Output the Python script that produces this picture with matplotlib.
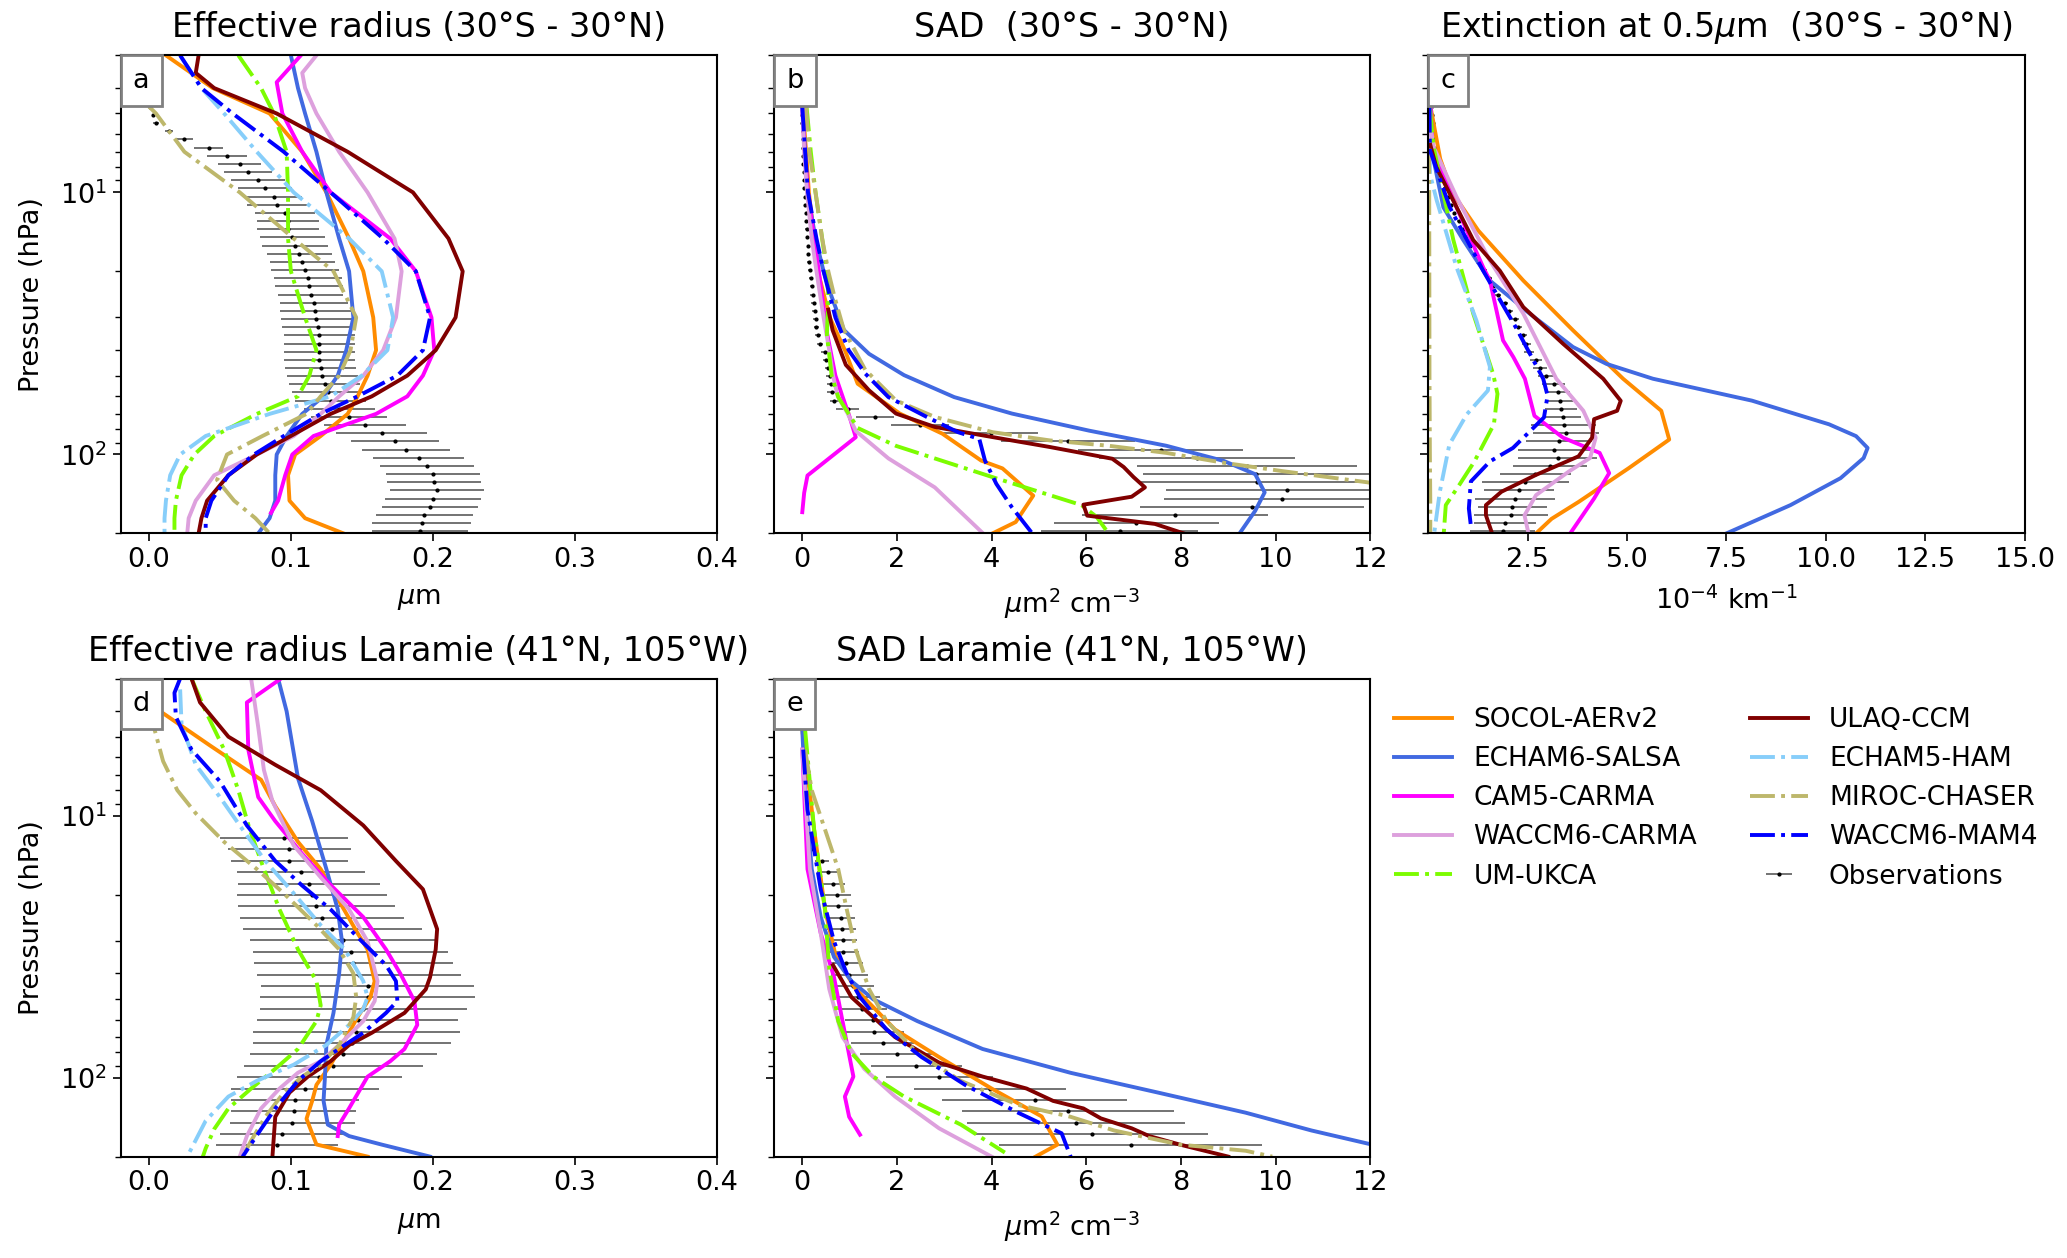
import matplotlib
matplotlib.use("Agg")
import matplotlib.pyplot as plt
from matplotlib.offsetbox import AnchoredText

plt.rcParams["font.family"] = "DejaVu Sans"

MODELS = ["SOCOL-AERv2", "ECHAM6-SALSA", "CAM5-CARMA", "WACCM6-CARMA", "UM-UKCA",
          "ULAQ-CCM", "ECHAM5-HAM", "MIROC-CHASER", "WACCM6-MAM4"]
COLORS = {"SOCOL-AERv2": "darkorange", "ECHAM6-SALSA": "royalblue", "CAM5-CARMA": "magenta",
          "WACCM6-CARMA": "plum", "UM-UKCA": "lawngreen", "ULAQ-CCM": "maroon",
          "ECHAM5-HAM": "lightskyblue", "MIROC-CHASER": "darkkhaki", "WACCM6-MAM4": "blue"}
STYLES = {"UM-UKCA": "-.", "ECHAM5-HAM": "-.", "MIROC-CHASER": "-.", "WACCM6-MAM4": "-."}

# ---------------- observations: pressure grids (hPa) ----------------
P_OBS_TROP = [4.72, 5.07, 5.44, 5.85, 6.28, 6.75, 7.25, 7.79, 8.37, 8.99,
              9.66, 10.38, 11.15, 11.98, 12.87, 13.83, 14.85, 15.96, 17.14, 18.42,
              19.79, 21.26, 22.84, 24.53, 26.36, 28.31, 30.42, 32.68, 35.11, 37.72,
              40.52, 43.53, 46.77, 50.24, 53.97, 57.98, 62.29, 66.92, 71.90, 77.24,
              82.97, 89.13, 95.75, 102.9, 110.5, 118.7, 127.6, 137.0, 147.2, 158.1,
              169.9, 182.5, 196.1]
P_OBS_LAR = [12.17, 13.45, 14.86, 16.43, 18.16, 20.07, 22.18, 24.51, 27.10, 29.95,
             33.10, 36.58, 40.44, 44.69, 49.39, 54.59, 60.34, 66.68, 73.70, 81.47,
             90.03, 99.5, 110.0, 121.6, 134.4, 148.5, 164.1, 181.4]

OBS_REFF_TROP = [0.001, 0.003, 0.005, 0.014, 0.025, 0.042, 0.055, 0.064, 0.070, 0.077,
                 0.082, 0.088, 0.090, 0.096, 0.098, 0.098, 0.101, 0.103, 0.106, 0.108,
                 0.110, 0.112, 0.113, 0.114, 0.116, 0.117, 0.118, 0.119, 0.120, 0.120,
                 0.120, 0.120, 0.121, 0.122, 0.124, 0.126, 0.128, 0.134, 0.141, 0.152,
                 0.164, 0.173, 0.181, 0.190, 0.196, 0.200, 0.201, 0.203, 0.200, 0.198,
                 0.194, 0.192, 0.191]
ERR_REFF_TROP = [0.001, 0.001, 0.002, 0.003, 0.006, 0.010, 0.014, 0.015, 0.017, 0.019,
                 0.019, 0.020, 0.021, 0.021, 0.022, 0.022, 0.023, 0.023, 0.023, 0.023,
                 0.024, 0.024, 0.024, 0.023, 0.024, 0.025, 0.025, 0.025, 0.025, 0.025,
                 0.025, 0.025, 0.025, 0.025, 0.025, 0.025, 0.025, 0.025, 0.027, 0.029,
                 0.032, 0.031, 0.031, 0.032, 0.033, 0.033, 0.033, 0.033, 0.034, 0.034,
                 0.034, 0.035, 0.034]

OBS_SAD_TROP = [0.0, 0.0, 0.0, 0.01, 0.01, 0.01, 0.02, 0.02, 0.03, 0.03,
                0.04, 0.05, 0.06, 0.07, 0.08, 0.09, 0.10, 0.12, 0.13, 0.15,
                0.17, 0.19, 0.20, 0.22, 0.24, 0.26, 0.28, 0.30, 0.33, 0.37,
                0.47, 0.50, 0.55, 0.58, 0.60, 0.62, 0.68, 0.96, 1.53, 2.49,
                3.98, 5.61, 7.57, 8.34, 9.40, 9.59, 9.61, 10.24, 10.14, 9.50,
                7.87, 7.06, 6.71]
ERR_SAD_TROP = [0.0, 0.0, 0.0, 0.01, 0.01, 0.01, 0.01, 0.01, 0.01, 0.02,
                0.02, 0.02, 0.02, 0.02, 0.03, 0.03, 0.03, 0.03, 0.03, 0.04,
                0.04, 0.04, 0.04, 0.05, 0.05, 0.05, 0.05, 0.06, 0.06, 0.06,
                0.07, 0.07, 0.08, 0.08, 0.08, 0.09, 0.10, 0.24, 0.40, 0.62,
                1.00, 1.42, 1.75, 2.07, 2.33, 2.40, 2.45, 2.55, 2.50, 2.37,
                1.96, 1.74, 1.66]

OBS_EXT_TROP = [0.06, 0.09, 0.11, 0.13, 0.15, 0.19, 0.23, 0.28, 0.32, 0.36,
                0.41, 0.49, 0.58, 0.65, 0.76, 0.87, 0.92, 1.05, 1.14, 1.26,
                1.41, 1.53, 1.63, 1.76, 1.92, 2.03, 2.18, 2.26, 2.37, 2.47,
                2.54, 2.71, 2.81, 2.96, 3.15, 3.25, 3.31, 3.34, 3.39, 3.41,
                3.47, 3.29, 3.17, 3.25, 3.05, 2.69, 2.44, 2.28, 2.18, 2.11,
                2.08, 1.94, 1.87]
ERR_EXT_TROP = [0.01, 0.01, 0.01, 0.01, 0.01, 0.02, 0.02, 0.02, 0.02, 0.03,
                0.03, 0.03, 0.04, 0.04, 0.04, 0.05, 0.05, 0.05, 0.06, 0.06,
                0.07, 0.07, 0.08, 0.08, 0.09, 0.09, 0.10, 0.10, 0.11, 0.12,
                0.13, 0.15, 0.17, 0.20, 0.30, 0.32, 0.33, 0.40, 0.46, 0.82,
                0.83, 0.82, 0.92, 1.00, 0.93, 0.89, 1.10, 0.87, 1.00, 0.87,
                0.92, 0.78, 0.81]

OBS_REFF_LAR = [0.095, 0.099, 0.099, 0.107, 0.113, 0.115, 0.118, 0.122, 0.129, 0.137,
                0.142, 0.144, 0.148, 0.154, 0.154, 0.151, 0.147, 0.146, 0.143, 0.137,
                0.130, 0.120, 0.110, 0.103, 0.102, 0.101, 0.094, 0.090]
ERR_REFF_LAR = [0.045, 0.043, 0.041, 0.045, 0.050, 0.053, 0.055, 0.058, 0.063, 0.066,
                0.069, 0.070, 0.072, 0.075, 0.076, 0.073, 0.071, 0.073, 0.070, 0.066,
                0.063, 0.058, 0.052, 0.045, 0.044, 0.044, 0.044, 0.043]

OBS_SAD_LAR = [0.18, 0.22, 0.41, 0.54, 0.65, 0.74, 0.76, 0.81, 0.83, 0.85,
               0.87, 0.93, 0.99, 1.08, 1.18, 1.27, 1.50, 1.52, 1.70, 2.01,
               2.41, 2.89, 3.97, 4.91, 5.62, 5.78, 6.13, 6.94]
ERR_SAD_LAR = [0.01, 0.10, 0.15, 0.22, 0.25, 0.28, 0.28, 0.30, 0.30, 0.31,
               0.32, 0.36, 0.39, 0.44, 0.46, 0.52, 0.60, 0.62, 0.67, 0.79,
               0.96, 1.13, 1.60, 1.95, 2.24, 2.30, 2.45, 2.78]

# ---------------- model profiles: (pressure hPa, value) ----------------
REFF_TROP = {
    "SOCOL-AERv2": ([3, 4, 5, 7, 10, 15, 20, 30, 40, 50, 60, 70, 85, 100, 120, 150, 175, 200],
                    [0.012, 0.045, 0.085, 0.108, 0.125, 0.141, 0.151, 0.158, 0.160, 0.154, 0.147, 0.140, 0.121, 0.103, 0.098, 0.099, 0.110, 0.137]),
    "ECHAM6-SALSA": ([3, 4, 5, 7, 10, 15, 20, 30, 40, 50, 60, 70, 85, 100, 120, 150, 175, 200],
                     [0.100, 0.105, 0.110, 0.118, 0.125, 0.134, 0.141, 0.144, 0.139, 0.133, 0.123, 0.108, 0.097, 0.090, 0.089, 0.089, 0.085, 0.077]),
    "CAM5-CARMA": ([3, 3.8, 5, 7, 10, 15, 20, 30, 40, 50, 60, 70, 85, 100, 120, 150, 167],
                   [0.107, 0.090, 0.094, 0.108, 0.128, 0.170, 0.188, 0.199, 0.201, 0.193, 0.182, 0.160, 0.116, 0.101, 0.096, 0.091, 0.086]),
    "WACCM6-CARMA": ([3, 3.5, 4, 5, 7, 10, 15, 20, 30, 40, 50, 60, 70, 85, 100, 120, 150, 175, 200],
                     [0.118, 0.108, 0.110, 0.118, 0.134, 0.154, 0.173, 0.178, 0.174, 0.165, 0.151, 0.134, 0.121, 0.102, 0.076, 0.046, 0.033, 0.028, 0.027]),
    "UM-UKCA": ([3, 4, 5, 7, 10, 15, 20, 30, 40, 50, 60, 70, 85, 100, 120, 150, 175, 200],
                [0.063, 0.079, 0.088, 0.097, 0.098, 0.098, 0.100, 0.110, 0.118, 0.113, 0.105, 0.076, 0.046, 0.032, 0.023, 0.019, 0.018, 0.018]),
    "ULAQ-CCM": ([3, 3.5, 4, 5, 7, 10, 15, 20, 30, 40, 50, 60, 70, 85, 100, 120, 150, 175, 200],
                 [0.035, 0.033, 0.046, 0.090, 0.140, 0.186, 0.211, 0.221, 0.216, 0.202, 0.182, 0.157, 0.128, 0.100, 0.076, 0.056, 0.041, 0.037, 0.035]),
    "ECHAM5-HAM": ([3, 4, 5, 7, 10, 15, 20, 30, 40, 50, 60, 70, 85, 100, 120, 150, 175, 200],
                   [0.022, 0.037, 0.053, 0.076, 0.102, 0.141, 0.164, 0.172, 0.168, 0.150, 0.128, 0.085, 0.040, 0.022, 0.015, 0.012, 0.011, 0.011]),
    "MIROC-CHASER": ([4.7, 5, 7, 10, 15, 20, 30, 40, 50, 60, 70, 85, 100, 125, 150, 175, 200],
                     [0.0, 0.005, 0.025, 0.064, 0.102, 0.130, 0.146, 0.142, 0.134, 0.121, 0.111, 0.080, 0.055, 0.048, 0.060, 0.075, 0.085]),
    "WACCM6-MAM4": ([3, 4, 5, 7, 10, 15, 20, 30, 40, 50, 60, 70, 85, 100, 120, 150, 175, 200],
                    [0.022, 0.037, 0.059, 0.095, 0.128, 0.165, 0.188, 0.198, 0.193, 0.175, 0.147, 0.121, 0.095, 0.074, 0.056, 0.044, 0.040, 0.040]),
}

SAD_TROP = {
    "SOCOL-AERv2": ([4.7, 5, 7, 10, 15, 20, 30, 40, 53.7, 69.8, 83.3, 105.5, 113, 143.5, 181, 200],
                    [0.0, 0.02, 0.08, 0.14, 0.25, 0.33, 0.58, 0.90, 1.17, 2.06, 2.96, 3.78, 4.23, 4.88, 4.51, 4.02]),
    "ECHAM6-SALSA": ([4.7, 7, 10, 15, 20, 25, 33.5, 41.3, 49.8, 60.4, 69.8, 81.1, 92.6, 105.9, 118.9, 139.5, 164, 200],
                     [0.0, 0.06, 0.11, 0.28, 0.45, 0.62, 0.88, 1.41, 2.15, 3.21, 4.43, 6.06, 7.69, 8.91, 9.57, 9.77, 9.57, 9.24]),
    "CAM5-CARMA": ([4.7, 7, 10, 15, 20, 33.5, 50, 71.9, 85.9, 120.3, 140, 166],
                   [0.0, 0.05, 0.12, 0.25, 0.35, 0.51, 0.70, 1.0, 1.13, 0.11, 0.04, 0.0]),
    "WACCM6-CARMA": ([4.7, 7, 10, 15, 20, 30, 40, 50, 60, 69.8, 81.3, 103.5, 133.5, 200],
                     [0.0, 0.04, 0.10, 0.20, 0.30, 0.45, 0.57, 0.65, 0.75, 0.96, 1.13, 1.82, 2.80, 3.82]),
    "UM-UKCA": ([4.7, 7, 10, 15, 20, 25, 35, 50, 60.4, 69, 79.2, 92.7, 122, 156, 173, 200],
                [0.09, 0.18, 0.28, 0.42, 0.52, 0.55, 0.52, 0.62, 0.76, 0.96, 1.17, 1.98, 4.02, 5.90, 6.22, 6.47]),
    "ULAQ-CCM": ([28, 33.5, 45.5, 56.9, 69.8, 78.5, 83.3, 88.4, 93.7, 103.8, 111.6, 122, 133.5, 144.9, 155.4, 171.1, 184, 200],
                 [0.55, 0.64, 0.92, 1.41, 1.98, 2.80, 3.61, 4.43, 5.24, 6.55, 6.79, 7.00, 7.24, 6.96, 5.94, 6.02, 7.45, 8.06]),
    "MIROC-CHASER": ([4.7, 7, 10, 15, 20, 25, 33.5, 47.5, 62.2, 71.9, 82.2, 88.4, 92.6, 98.6, 107.6, 115.7, 127.6, 132],
                     [0.08, 0.15, 0.28, 0.42, 0.55, 0.68, 0.88, 1.33, 1.98, 2.80, 4.02, 5.24, 6.47, 7.69, 8.91, 10.14, 11.93, 12.4]),
    "WACCM6-MAM4": ([4.7, 7, 10, 15, 20, 30, 40, 49.1, 60.4, 71.9, 82.2, 87.2, 105.5, 129.4, 159.1, 198],
                    [0.0, 0.06, 0.12, 0.30, 0.45, 0.70, 0.98, 1.33, 1.82, 2.63, 3.29, 3.74, 3.86, 4.10, 4.43, 4.84]),
}

EXT_TROP = {
    "SOCOL-AERv2": ([4.75, 7.45, 10, 14, 21.7, 33.6, 51.4, 68.1, 87.7, 112.8, 151.7, 176, 200],
                    [0.06, 0.30, 0.60, 1.26, 2.39, 3.64, 4.90, 5.86, 6.06, 5.04, 3.78, 3.10, 2.71]),
    "ECHAM6-SALSA": ([4.75, 7.1, 11.4, 15.2, 21.7, 29.0, 38.9, 45.1, 51.4, 62.3, 76.7, 85.1, 94.4, 103.2, 123.1, 156, 200],
                     [0.06, 0.10, 0.38, 0.88, 1.55, 2.55, 3.64, 4.48, 5.65, 8.14, 10.08, 10.76, 11.05, 10.95, 10.37, 9.11, 7.50]),
    "CAM5-CARMA": ([4.75, 6.9, 11.4, 19.3, 21.7, 36.7, 42.5, 51.4, 71.2, 86.3, 98.6, 117.8, 147.2, 200],
                   [0.06, 0.10, 0.71, 1.38, 1.55, 1.88, 2.14, 2.43, 2.67, 3.39, 4.31, 4.55, 4.17, 3.57]),
    "WACCM6-CARMA": ([5.5, 6.7, 10.4, 18.2, 29.0, 51.4, 68.1, 86.3, 103.1, 116, 142.9, 170.6, 200],
                     [0.05, 0.13, 0.71, 1.55, 2.39, 3.22, 3.90, 4.21, 4.07, 3.54, 2.71, 2.42, 2.52]),
    "UM-UKCA": ([4.75, 6.7, 15.2, 29.0, 49.2, 58.7, 76.7, 106.3, 130.6, 156, 199],
                [0.04, 0.13, 0.63, 1.13, 1.63, 1.74, 1.65, 1.16, 0.78, 0.44, 0.39]),
    "ULAQ-CCM": ([6.5, 8.0, 15.2, 19.9, 27.4, 37.8, 51.4, 62.4, 68.1, 73.3, 86.3, 101.6, 119.6, 138.7, 156, 170.6, 199],
                 [0.04, 0.20, 1.13, 1.80, 2.39, 3.39, 4.40, 4.84, 4.75, 4.17, 4.12, 3.78, 2.71, 1.84, 1.45, 1.45, 1.60]),
    "ECHAM5-HAM": ([4.75, 8.5, 10.7, 19.3, 30.8, 46.3, 57.0, 70.2, 91.6, 138.7, 199],
                   [0.02, 0.04, 0.21, 0.71, 1.21, 1.55, 1.50, 0.97, 0.53, 0.29, 0.15]),
    "MIROC-CHASER": ([4.75, 50, 100, 150, 200],
                     [0.02, 0.03, 0.04, 0.05, 0.05]),
    "WACCM6-MAM4": ([4.75, 6.9, 11.4, 19.9, 33.1, 51.4, 59.6, 72.2, 82.6, 94.4, 106.3, 126.8, 160.6, 186.6],
                    [0.03, 0.04, 0.54, 1.38, 2.22, 2.89, 3.00, 2.91, 2.52, 2.13, 1.55, 1.07, 1.02, 1.07]),
}

REFF_LAR = {
    "SOCOL-AERv2": ([4.0, 5.4, 7.3, 9.2, 12.6, 16.0, 21.2, 28.1, 32.4, 42.8, 49.3, 58.7, 75, 89.2, 106.5, 122.6, 143.4, 179.8, 200],
                    [0.008, 0.043, 0.079, 0.089, 0.105, 0.121, 0.134, 0.147, 0.154, 0.159, 0.156, 0.147, 0.136, 0.128, 0.118, 0.115, 0.111, 0.118, 0.154]),
    "ECHAM6-SALSA": ([3.0, 4.0, 7.2, 10.5, 16.0, 22.8, 30.2, 40, 56.6, 75, 99, 122.6, 151, 167, 180, 200],
                     [0.091, 0.097, 0.105, 0.115, 0.125, 0.133, 0.136, 0.134, 0.130, 0.125, 0.124, 0.123, 0.126, 0.141, 0.164, 0.198]),
    "CAM5-CARMA": ([3.0, 3.7, 5.6, 8.5, 10.5, 14.0, 18.4, 24.4, 32.4, 40, 51, 62.9, 77.7, 86.5, 99.1, 130.8, 151, 167],
                   [0.093, 0.069, 0.070, 0.077, 0.089, 0.108, 0.128, 0.151, 0.167, 0.177, 0.187, 0.189, 0.180, 0.170, 0.154, 0.141, 0.134, 0.133]),
    "WACCM6-CARMA": ([3.0, 4.6, 6.7, 8.8, 13.0, 17.2, 22.8, 30.2, 42.8, 51, 60.8, 75, 86.5, 95.7, 110, 131, 167, 200],
                     [0.072, 0.077, 0.081, 0.087, 0.102, 0.121, 0.141, 0.154, 0.161, 0.159, 0.151, 0.134, 0.121, 0.105, 0.092, 0.079, 0.069, 0.064]),
    "UM-UKCA": ([3.0, 4.0, 5.6, 8.0, 11.3, 16.0, 22.8, 32.4, 42.8, 53, 60.8, 77.7, 92.5, 110, 131, 157, 186, 200],
                [0.030, 0.040, 0.053, 0.063, 0.071, 0.081, 0.092, 0.105, 0.118, 0.121, 0.118, 0.105, 0.089, 0.072, 0.056, 0.046, 0.040, 0.038]),
    "ULAQ-CCM": ([3.0, 3.7, 5.0, 6.4, 8.0, 10.9, 14.9, 19.1, 27.1, 32.4, 41.4, 46.0, 56.6, 67.4, 75, 86.5, 99, 114, 141, 200],
                 [0.030, 0.036, 0.056, 0.089, 0.121, 0.151, 0.174, 0.193, 0.203, 0.202, 0.198, 0.195, 0.180, 0.157, 0.141, 0.128, 0.112, 0.099, 0.089, 0.087]),
    "ECHAM5-HAM": ([3.3, 4.5, 6.4, 8.5, 11.3, 14.9, 19.8, 26.2, 32.4, 42.8, 49.3, 54.7, 62.9, 75, 89.2, 102.8, 118, 146, 200],
                   [0.022, 0.023, 0.033, 0.050, 0.066, 0.082, 0.102, 0.121, 0.138, 0.151, 0.154, 0.151, 0.141, 0.125, 0.102, 0.076, 0.056, 0.040, 0.027]),
    "MIROC-CHASER": ([3.9, 4.7, 6.2, 8.0, 9.8, 12.6, 16.0, 19.8, 26.2, 32.4, 40, 49.3, 58.7, 75, 89.2, 99, 114, 141, 174, 200],
                     [0.003, 0.004, 0.010, 0.020, 0.033, 0.053, 0.076, 0.095, 0.118, 0.134, 0.144, 0.146, 0.144, 0.134, 0.121, 0.108, 0.095, 0.082, 0.072, 0.066]),
    "WACCM6-MAM4": ([3.0, 3.4, 4.2, 5.6, 7.4, 10.9, 14.9, 18.5, 22.8, 29.1, 37.2, 42.8, 51, 56.6, 67.4, 75, 86.5, 102.8, 131, 157, 200],
                    [0.022, 0.018, 0.019, 0.030, 0.050, 0.069, 0.089, 0.108, 0.128, 0.147, 0.167, 0.174, 0.175, 0.167, 0.151, 0.138, 0.121, 0.105, 0.089, 0.079, 0.066]),
}

SAD_LAR = {
    "SOCOL-AERv2": ([4.7, 11.3, 22.8, 34.6, 45.9, 65.5, 83.4, 110, 140.6, 180, 200],
                    [0.0, 0.25, 0.48, 0.71, 1.13, 1.96, 2.89, 4.00, 5.06, 5.39, 4.93]),
    "ECHAM6-SALSA": ([4.7, 8.0, 16.0, 24.4, 34.6, 42.8, 50.2, 60.8, 77.7, 95.8, 114, 136, 159, 180, 200],
                     [0.0, 0.06, 0.20, 0.39, 0.67, 1.04, 1.50, 2.43, 3.81, 5.67, 7.52, 9.37, 10.76, 12.04, 12.7]),
    "CAM5-CARMA": ([5.6, 16, 28.1, 41.3, 60.8, 99, 118, 141, 165],
                   [0.0, 0.11, 0.39, 0.67, 0.85, 1.08, 0.90, 0.99, 1.22]),
    "WACCM6-CARMA": ([5.6, 16, 28.1, 45.9, 70, 92.5, 118, 156, 200],
                     [0.0, 0.16, 0.39, 0.57, 0.85, 1.31, 1.96, 2.89, 4.00]),
    "UM-UKCA": ([4.7, 11.3, 22.8, 38.5, 60.8, 80.5, 99, 118, 151, 193],
                [0.06, 0.25, 0.48, 0.57, 0.76, 1.04, 1.50, 2.15, 3.35, 4.28]),
    "ULAQ-CCM": ([37.2, 49.3, 70, 87.6, 99, 110, 122.6, 131, 143, 156, 167, 180, 200],
                 [0.65, 1.04, 1.96, 2.89, 3.81, 4.74, 5.30, 5.94, 6.31, 6.96, 7.33, 7.98, 9.00]),
    "MIROC-CHASER": ([5.6, 8.0, 11.3, 16, 22.8, 32.4, 45.9, 60.8, 80.5, 102.8, 127, 141, 159, 180, 190, 200],
                     [0.06, 0.20, 0.48, 0.76, 0.94, 1.13, 1.41, 1.78, 2.43, 3.35, 4.56, 5.67, 6.59, 7.98, 9.37, 9.93]),
    "WACCM6-MAM4": ([5.6, 9.5, 19.1, 30.2, 40, 49.3, 65.5, 83.4, 106.5, 136, 163, 200],
                    [0.02, 0.11, 0.39, 0.67, 0.94, 1.22, 1.78, 2.52, 3.44, 4.56, 5.48, 5.67]),
}

TITLES = ["Effective radius (30°S - 30°N)", "SAD  (30°S - 30°N)",
          r"Extinction at 0.5$\mu$m  (30°S - 30°N)",
          "Effective radius Laramie (41°N, 105°W)", "SAD Laramie (41°N, 105°W)"]
XLABELS = [r"$\mu$m", r"$\mu$m$^2$ cm$^{-3}$", r"10$^{-4}$ km$^{-1}$",
           r"$\mu$m", r"$\mu$m$^2$ cm$^{-3}$"]

FS = 19.5
fig = plt.figure(figsize=(20.67, 12.58), dpi=100)
W, H = 0.2885, 0.380
pos = [(0.0583, 0.576), (0.3744, 0.576), (0.691, 0.576), (0.0583, 0.0806), (0.3744, 0.0806)]
axes = [fig.add_axes([x, y, W, H]) for x, y in pos]

panels = [
    (REFF_TROP, OBS_REFF_TROP, ERR_REFF_TROP, P_OBS_TROP),
    (SAD_TROP, OBS_SAD_TROP, ERR_SAD_TROP, P_OBS_TROP),
    (EXT_TROP, OBS_EXT_TROP, ERR_EXT_TROP, P_OBS_TROP),
    (REFF_LAR, OBS_REFF_LAR, ERR_REFF_LAR, P_OBS_LAR),
    (SAD_LAR, OBS_SAD_LAR, ERR_SAD_LAR, P_OBS_LAR),
]

handles = {}
for i, (ax, (models, obs, err, pobs)) in enumerate(zip(axes, panels)):
    eb = ax.errorbar(obs, pobs, xerr=err, fmt=".", color="k", ms=4,
                     ecolor="0.3", elinewidth=1.1, capsize=0, zorder=1)
    handles["Observations"] = eb
    for name in MODELS:
        if name not in models:
            continue
        p, v = models[name]
        ln, = ax.plot(v, p, color=COLORS[name], ls=STYLES.get(name, "-"), lw=2.8, zorder=2)
        handles[name] = ln

    ax.set_yscale("log")
    ax.set_ylim(200, 3)
    ax.set_title(TITLES[i], fontsize=24, pad=13)
    ax.set_xlabel(XLABELS[i], fontsize=FS, labelpad=10)
    ax.tick_params(axis="both", which="major", labelsize=FS, length=6, width=1.2)
    ax.tick_params(axis="y", which="minor", length=4, width=1.0)
    for s in ax.spines.values():
        s.set_linewidth(1.5)
    if i in (0, 3):
        ax.set_xlim(-0.02, 0.4)
        ax.set_xticks([0.0, 0.1, 0.2, 0.3, 0.4])
        ax.set_ylabel("Pressure (hPa)", fontsize=FS, labelpad=11)
    else:
        ax.tick_params(axis="y", which="both", labelleft=False)
    if i in (1, 4):
        ax.set_xlim(-0.6, 12)
        ax.set_xticks([0, 2, 4, 6, 8, 10, 12])
    if i == 2:
        ax.set_xlim(0, 15)
        ax.set_xticks([2.5, 5.0, 7.5, 10.0, 12.5, 15.0])

    at = AnchoredText("abcde"[i], loc="upper left", pad=0.45, borderpad=0,
                      prop=dict(size=FS), frameon=True)
    at.patch.set_edgecolor("gray")
    at.patch.set_linewidth(2)
    at.zorder = 5
    ax.add_artist(at)

order = MODELS[:5] + MODELS[5:] + ["Observations"]
fig.legend([handles[n] for n in order], order, loc="upper left",
           bbox_to_anchor=(0.663, 0.457), ncol=2, frameon=False, fontsize=19,
           handlelength=2.2, handletextpad=0.8, columnspacing=2.0)

fig.savefig("out.png", dpi=100)
